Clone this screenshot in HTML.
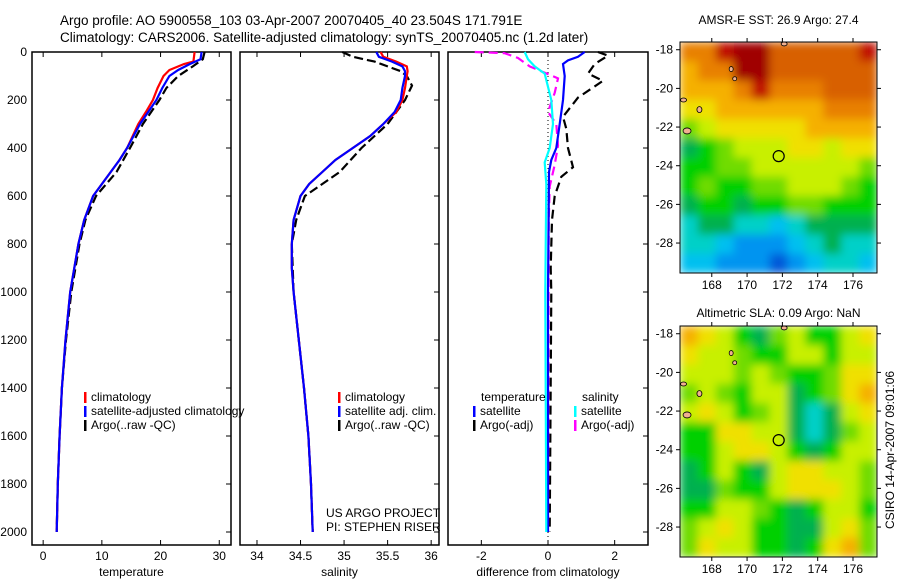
<!DOCTYPE html>
<html><head><meta charset="utf-8">
<style>
html,body{margin:0;padding:0;background:#fff;}
svg{display:block;font-family:"Liberation Sans",sans-serif;}
text{font-size:12px;fill:#000;}
</style></head>
<body>
<svg id="chart" width="900" height="580" viewBox="0 0 900 580" xmlns="http://www.w3.org/2000/svg">
<defs>
<filter id="blur" x="0" y="0" width="1" height="1"><feGaussianBlur stdDeviation="4.5" edgeMode="duplicate"/></filter>
<clipPath id="clip1"><rect x="680" y="42" width="197" height="231"/></clipPath>
<clipPath id="clip2"><rect x="680" y="326" width="197" height="231"/></clipPath>
</defs>
<text x="60" y="25" style="font-size:13.5px">Argo profile: AO 5900558_103 03-Apr-2007 20070405_40 23.504S 171.791E</text>
<text x="60" y="42" style="font-size:13.5px">Climatology: CARS2006. Satellite-adjusted climatology: synTS_20070405.nc (1.2d later)</text>
<g id="layer"></g>
</svg>
<script>
// ---- data ----
const depthTicks = [0,200,400,600,800,1000,1200,1400,1600,1800,2000];
const tempTicks = [0,10,20,30];
const salTicks = [34,34.5,35,35.5,36];
const diffTicks = [-2,0,2];
const lonTicks = [168,170,172,174,176];
const latTicks = [-18,-20,-22,-24,-26,-28];

const tClimDepth = [0,40,50,75,100,150,200,250,300,400,450,500,550,600,700,800,1000,1200,1400,1600,1800,2000];
const tClimVal   = [25.8,25.6,24,21.5,20.5,19.5,18.7,17.5,16.2,14.3,13,11.5,10,8.5,7,6,4.6,3.8,3.2,2.8,2.5,2.3];
const tSatDepth  = [0,30,50,75,100,150,200,300,400,450,500,550,600,700,800,1000,1200,1400,1600,1800,2000];
const tSatVal    = [27,26.8,25,23,21.5,20.3,19.3,16.5,14.3,13,11.5,10,8.5,7,6,4.6,3.8,3.2,2.8,2.5,2.3];
const tArgoDepth = [0,30,60,100,150,200,300,400,500,600,700,800,1000,1200,1400,1600,1800,2000];
const tArgoVal   = [27.5,27.2,25.5,23,21,19.8,17,14.8,12.5,9,7.2,6.2,4.8,3.9,3.2,2.8,2.5,2.3];

const sClimDepth = [0,20,40,60,80,100,150,200,250,300,350,400,450,500,550,600,700,800,900,1000,1200,1400,1600,1800,2000];
const sClimVal   = [35.42,35.45,35.6,35.72,35.73,35.72,35.7,35.67,35.6,35.45,35.3,35.1,34.9,34.75,34.6,34.5,34.42,34.4,34.4,34.42,34.48,34.54,34.59,34.62,34.64];
const sSatDepth  = [0,20,40,60,80,100,150,200,250,300,350,400,450,500,550,600,700,800,900,1000,1200,1400,1600,1800,2000];
const sSatVal    = [35.37,35.4,35.55,35.67,35.7,35.7,35.67,35.65,35.58,35.45,35.3,35.1,34.9,34.75,34.6,34.5,34.42,34.4,34.4,34.42,34.48,34.54,34.59,34.62,34.64];
const sArgoDepth = [0,20,40,60,80,100,140,200,300,400,500,550,600,700,800,1000,1200,1400,1600,1800,2000];
const sArgoVal   = [34.98,35.1,35.35,35.5,35.65,35.72,35.78,35.7,35.5,35.2,34.95,34.75,34.55,34.45,34.4,34.42,34.48,34.54,34.59,34.62,34.64];

const dTSatDepth = [0,20,35,50,100,200,300,400,450,500,1000,2000];
const dTSatVal   = [1.1,0.9,0.6,0.45,0.5,0.45,0.35,0.25,0.1,0.03,0.0,0.0];
const dTArgoDepth= [0,15,50,90,120,190,270,320,400,480,520,600,700,900,1000,2000];
const dTArgoVal  = [1.5,1.8,1.4,1.2,1.65,0.9,0.45,0.55,0.6,0.75,0.4,0.2,0.12,0.08,0.1,0.05];
const dSSatDepth = [0,30,60,90,200,300,400,460,550,1000,2000];
const dSSatVal   = [-0.7,-0.6,-0.4,-0.1,0.1,0.15,0.05,-0.1,-0.05,-0.08,-0.05];
const dSArgoDepth= [0,5,25,60,95,110,170,250,300,390,470,560,700,2000];
const dSArgoVal  = [-2.2,-1.3,-0.9,-0.55,0.05,0.3,0.2,0,0.25,0.3,0.2,0.05,0.02,0];

const sstGrid = [
[10,10,12,13,13,11,11,11,11,11,12],
[9,10,10,13,13,11,11,11,11,11,11],
[9,9,9,10,12,10,10,10,11,11,11],
[8,8,9,9,9,9,9,9,10,10,10],
[6,7,8,8,8,8,8,9,9,9,9],
[4,5,6,7,7,7,8,8,7,8,8],
[5,5,6,6,7,7,7,7,7,7,6],
[5,6,5,5,6,6,7,7,7,6,5],
[4,5,5,4,5,5,6,6,5,5,5],
[3,4,4,3,3,2,3,4,4,4,4],
[3,3,2,1,1,1,2,3,4,3,3],
[2,2,1,1,1,0,1,2,3,3,2]];
const slaGrid = [
[9,8,7,5,4,6,7,5,5,7,8],
[8,7,7,6,5,5,7,7,5,7,7],
[7,7,7,6,7,6,5,5,6,8,8],
[6,7,6,5,7,7,4,5,6,8,9],
[7,8,7,5,6,7,4,3,4,7,8],
[5,5,8,8,7,7,4,3,4,6,7],
[5,5,7,8,8,7,5,4,5,7,7],
[4,5,7,5,4,7,8,8,7,7,6],
[4,4,6,5,5,7,8,8,8,7,6],
[5,5,7,7,6,5,4,5,7,7,5],
[6,7,8,7,5,5,4,4,7,8,6],
[6,8,7,7,5,5,4,5,8,9,6]];
const cmap = ['#0058d8','#0094f0','#00c0f0','#00d0c8','#00b050','#00d000','#70dc00','#c8f000','#f0e000','#f5b000','#e88000','#d86000','#c01000','#a00000'];

// ---- helpers ----
const NS='http://www.w3.org/2000/svg';
const layer=document.getElementById('layer');
function mk(tag,attrs,parent){const e=document.createElementNS(NS,tag);for(const k in attrs)e.setAttribute(k,attrs[k]);(parent||layer).appendChild(e);return e;}
const yD = d => 52 + d*0.24;

function panel(name,x0,x1,xmin,xmax,xticks,xlabel,showY){
  const g=mk('g',{});
  
  
  const sx=v=>x0+(v-xmin)/(xmax-xmin)*(x1-x0);
  const r=mk('rect',{x:x0,y:52,width:x1-x0,height:493,fill:'none',stroke:'#000','stroke-width':1.5},g);
  
  
  xticks.forEach(t=>{
    const x=sx(t);
    mk('line',{x1:x,x2:x,y1:52,y2:57,stroke:'#000'},g);
    mk('line',{x1:x,x2:x,y1:545,y2:540,stroke:'#000'},g);
    const tx=mk('text',{x:x,y:560,'text-anchor':'middle'},g);tx.textContent=String(t);
    
    
  });
  depthTicks.forEach(d=>{
    mk('line',{x1:x1,x2:x1-5,y1:yD(d),y2:yD(d),stroke:'#000'},g);
    if(showY){const t=mk('text',{x:27,y:yD(d)+4,'text-anchor':'end'},g);t.textContent=String(d);
      
      }
  });
  const lb=mk('text',{x:(x0+x1)/2,y:576,'text-anchor':'middle'},g);lb.textContent=xlabel;
  
  
  return sx;
}
function line(sx,depths,vals,color,dash,name,w){
  const pts=depths.map((d,i)=>sx(vals[i]).toFixed(1)+','+yD(d).toFixed(1)).join(' ');
  const p=mk('polyline',{points:pts,fill:'none',stroke:color,'stroke-width':w||2.2,'stroke-dasharray':dash||'none'});
  
  
}
function legend(x,y,color,label,name){
  mk('rect',{x:x,y:y-9,width:2.5,height:11,fill:color});
  const t=mk('text',{x:x+7,y:y});t.textContent=label;
  
  
}

// temperature panel
const sxT=panel('temperature-panel',32,231,-1.9,32,tempTicks,'temperature',true);
line(sxT,tArgoDepth,tArgoVal,'#000','9,4','argo-temperature-line');
line(sxT,tClimDepth,tClimVal,'#f00',null,'climatology-temperature-line');
line(sxT,tSatDepth,tSatVal,'#00f',null,'satellite-temperature-line');
legend(84,401,'#f00','climatology','legend-climatology');
legend(84,415,'#00f','satellite-adjusted climatology','legend-satellite');
legend(84,429,'#000','Argo(..raw -QC)','legend-argo');

// salinity panel
const sxS=panel('salinity-panel',240,439,33.805,36.09,salTicks,'salinity',false);
line(sxS,sArgoDepth,sArgoVal,'#000','9,4','argo-salinity-line');
line(sxS,sClimDepth,sClimVal,'#f00',null,'climatology-salinity-line');
line(sxS,sSatDepth,sSatVal,'#00f',null,'satellite-salinity-line');
legend(338,401,'#f00','climatology','legend-sal-climatology');
legend(338,415,'#00f','satellite adj. clim.','legend-sal-satellite');
legend(338,429,'#000','Argo(..raw -QC)','legend-sal-argo');
const us=mk('text',{x:326,y:517});us.textContent='US ARGO PROJECT';


const pi=mk('text',{x:326,y:531});pi.textContent='PI: STEPHEN RISER';



// diff panel
const sxD=panel('difference-panel',448,648,-3,3,diffTicks,'difference from climatology',false);
mk('line',{x1:sxD(0),x2:sxD(0),y1:52,y2:545,stroke:'#000','stroke-dasharray':'1,3'});
line(sxD,dTArgoDepth,dTArgoVal,'#000','9,5','argo-temp-diff-line');
line(sxD,dSArgoDepth,dSArgoVal,'#f0f','9,5','argo-sal-diff-line');
line(sxD,dTSatDepth,dTSatVal,'#00f',null,'satellite-temp-diff-line');
line(sxD,dSSatDepth,dSSatVal,'#0ff',null,'satellite-sal-diff-line');
const lt=mk('text',{x:481,y:401});lt.textContent='temperature';


const ls=mk('text',{x:582,y:401});ls.textContent='salinity';


legend(473,415,'#00f','satellite','legend-diff-temp-satellite');
legend(473,429,'#000','Argo(-adj)','legend-diff-temp-argo');
legend(574,415,'#0ff','satellite','legend-diff-sal-satellite');
legend(574,429,'#f0f','Argo(-adj)','legend-diff-sal-argo');

// maps
function map(name,top,bottom,grid,title,titleY,clip){
  const x0=680,x1=877,lonMin=166.2,lonMax=177.36,latMax=-17.6,latMin=-29.55;
  const sx=v=>x0+(v-lonMin)/(lonMax-lonMin)*(x1-x0);
  const sy=v=>top+(latMax-v)/(latMax-latMin)*(bottom-top);
  const g=mk('g',{});
  
  
  const cg=mk('g',{'clip-path':'url(#'+clip+')'},g);
  const bg=mk('g',{filter:'url(#blur)'},cg);
  const nr=grid.length,nc=grid[0].length;
  const cw=(lonMax-lonMin)/nc, ch=(latMax-latMin)/nr;
  grid.forEach((row,i)=>row.forEach((v,j)=>{
    const xa=sx(lonMin+j*cw), xb=sx(lonMin+(j+1)*cw), ya=sy(latMax-i*ch), yb=sy(latMax-(i+1)*ch);
    const c=mk('rect',{x:xa,y:ya,width:xb-xa+0.6,height:yb-ya+0.6,fill:cmap[v]},bg);
    
    
  }));
  // islands
  [[166.4,-20.6,3,2],[166.6,-22.2,4,3],[167.3,-21.1,2.5,3],[169.1,-19.0,2,2.5],[169.3,-19.5,2,2],[172.1,-17.7,3,2]].forEach(p=>{
    mk('ellipse',{cx:sx(p[0]),cy:sy(p[1]),rx:p[2],ry:p[3],fill:'#f0b090',stroke:'#000','stroke-width':0.8},cg);
  });
  const c=mk('circle',{cx:sx(171.791),cy:sy(-23.504),r:5.5,fill:'none',stroke:'#000','stroke-width':1.2},g);
  
  
  mk('rect',{x:x0,y:top,width:x1-x0,height:bottom-top,fill:'none',stroke:'#000','stroke-width':1},g);
  lonTicks.forEach(t=>{
    const x=sx(t);
    mk('line',{x1:x,x2:x,y1:top,y2:top-4,stroke:'#000'},g);
    mk('line',{x1:x,x2:x,y1:bottom,y2:bottom+4,stroke:'#000'},g);
    const tx=mk('text',{x:x,y:bottom+16,'text-anchor':'middle'},g);tx.textContent=String(t);
    
    
  });
  latTicks.forEach(t=>{
    const y=sy(t);
    mk('line',{x1:x0,x2:x0-4,y1:y,y2:y,stroke:'#000'},g);
    mk('line',{x1:x1,x2:x1+4,y1:y,y2:y,stroke:'#000'},g);
    const tx=mk('text',{x:x0-7,y:y+4,'text-anchor':'end'},g);tx.textContent=String(t);
    
    
  });
  const tt=mk('text',{x:(x0+x1)/2,y:titleY,'text-anchor':'middle'},g);tt.textContent=title;
  
  
}
map('sst-map',42,273,sstGrid,'AMSR-E SST: 26.9 Argo: 27.4',24,'clip1');
map('sla-map',326,557,slaGrid,'Altimetric SLA: 0.09 Argo: NaN',317,'clip2');
const cs=mk('text',{x:0,y:0,'text-anchor':'middle',transform:'translate(894,450) rotate(-90)'});
cs.textContent='CSIRO 14-Apr-2007 09:01:06';


</script>
</body></html>
